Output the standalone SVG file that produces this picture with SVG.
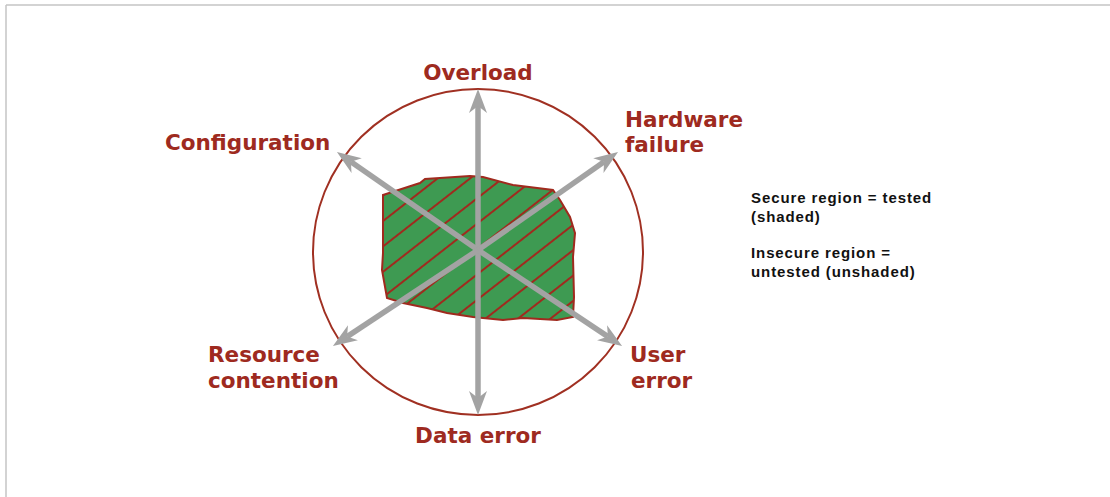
<svg xmlns="http://www.w3.org/2000/svg" xmlns:xlink="http://www.w3.org/1999/xlink" width="1110" height="497" viewBox="0 0 1110 497">
<style>
.lbl{font-family:"DejaVu Sans",Verdana,sans-serif;font-weight:bold;font-size:21.5px;fill:#9e2a20}
.leg{font-family:"Liberation Sans",Arial,sans-serif;font-weight:bold;font-size:15px;fill:#111;letter-spacing:0.9px}
.arr{stroke:#a3a3a3;stroke-width:5.5;fill:none;marker-end:url(#ah)}
</style>
<defs>
<marker id="ah" markerUnits="userSpaceOnUse" viewBox="-1 -11 28 22" markerWidth="28" markerHeight="22" refX="7" refY="0" orient="auto">
<path d="M0,-9 L24,0 L0,9 L7,0 Z" fill="#a3a3a3"/>
</marker>
<pattern id="hatch" patternUnits="userSpaceOnUse" width="20" height="20" patternTransform="rotate(-38)">
<line x1="0" y1="10" x2="20" y2="10" stroke="#a02a1e" stroke-width="2"/>
</pattern>
<path id="blobShape" d="M383,195 L420,183 L425,179 L470,176 L483,177 L513,185 L553,190 L560,200 L570,217 L575,233 L573,257 L574,297 L573,317 L557,320 L523,318 L503,320 L473,317 L447,313 L427,308 L403,303 L387,298 L382,270 L383,253 L383,213 Z"/>
</defs>
<g id="frame" stroke="#c4c4c4" stroke-width="1.5" fill="none">
<line x1="6" y1="5" x2="1110" y2="5"/>
<line x1="6" y1="5" x2="6" y2="497"/>
</g>
<g id="boundary">
<ellipse cx="478" cy="252" rx="165" ry="163" fill="none" stroke="#a03022" stroke-width="2"/>
</g>
<g id="secure-region">
<use xlink:href="#blobShape" fill="#3e9a52"/>
<use xlink:href="#blobShape" fill="url(#hatch)"/>
<use xlink:href="#blobShape" fill="none" stroke="#a02a1e" stroke-width="2"/>
</g>
<g id="connectors">
<line class="arr" x1="478" y1="250" x2="478" y2="106"/>
<line class="arr" x1="478" y1="250" x2="478" y2="398"/>
<line class="arr" x1="478" y1="250" x2="350.9" y2="161.7"/>
<line class="arr" x1="478" y1="250" x2="604.1" y2="161.7"/>
<line class="arr" x1="478" y1="250" x2="607.9" y2="336.6"/>
<line class="arr" x1="478" y1="250" x2="347.1" y2="336.6"/>
</g>
<g id="overload"><text class="lbl" x="478" y="80" text-anchor="middle">Overload</text></g>
<g id="configuration"><text class="lbl" x="165" y="150">Configuration</text></g>
<g id="hardware-failure"><text class="lbl" x="625" y="127">Hardware</text><text class="lbl" x="625" y="152">failure</text></g>
<g id="resource-contention"><text class="lbl" x="208" y="362">Resource</text><text class="lbl" x="208" y="388">contention</text></g>
<g id="user-error"><text class="lbl" x="630" y="362">User</text><text class="lbl" x="631" y="388">error</text></g>
<g id="data-error"><text class="lbl" x="478" y="443" text-anchor="middle">Data error</text></g>
<g id="legend">
<text class="leg" x="751" y="203">Secure region = tested</text>
<text class="leg" x="751" y="222">(shaded)</text>
<text class="leg" x="751" y="258">Insecure region =</text>
<text class="leg" x="751" y="277">untested (unshaded)</text>
</g>
</svg>
